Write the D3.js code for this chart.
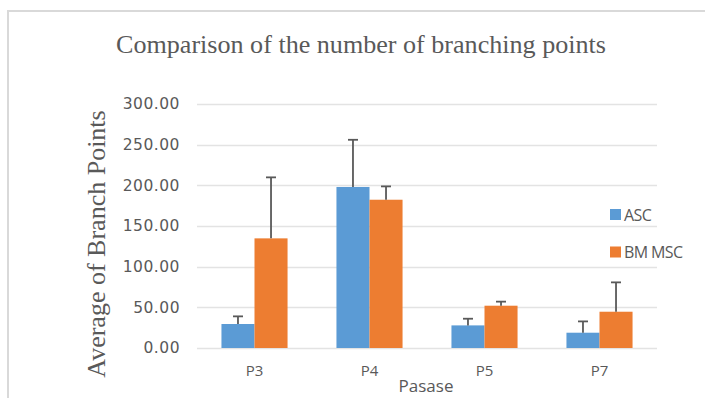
<!DOCTYPE html>
<html>
<head>
<meta charset="utf-8">
<script src="https://cdn.jsdelivr.net/npm/d3@7"></script>
<style>
  body { margin: 0; background: #fff; }
  svg { display: block; }
</style>
</head>
<body>
<div id="chart"></div>
<script>
// data
let passages = ["P3", "P4", "P5", "P7"];
let seriesNames = ["ASC", "BM MSC"];
let ascValues = [29.5, 198, 27.8, 18.8];
let ascErrors = [9.4, 58, 8.2, 13.9];
let bmValues = [134.8, 182.3, 52, 44.6];
let bmErrors = [75, 16.4, 5, 36.1];
let yTicks = [0, 50, 100, 150, 200, 250, 300];

let colors = {"ASC": "#5b9bd5", "BM MSC": "#ed7d31"};

let width = 705, height = 398;
let margin = {top: 104, left: 197, right: 48, bottom: 50};

let svg = d3.select("#chart").append("svg")
    .attr("width", width)
    .attr("height", height);

// chart frame
svg.append("rect")
    .attr("x", 8)
    .attr("y", 11)
    .attr("width", 720)
    .attr("height", 420)
    .attr("fill", "none")
    .attr("stroke", "#d9d9d9")
    .attr("stroke-width", 2);

// title
svg.append("text")
    .attr("x", 361)
    .attr("y", 53)
    .attr("text-anchor", "middle")
    .attr("font-family", "Liberation Serif, serif")
    .attr("font-size", 25)
    .attr("fill", "#595959")
    .attr("textLength", 490)
    .attr("lengthAdjust", "spacingAndGlyphs")
    .text("Comparison of the number of branching points");

let x0 = d3.scaleBand()
    .domain(passages)
    .range([margin.left, width - margin.right]);

let x1 = d3.scaleBand()
    .domain(seriesNames)
    .range([0, x0.bandwidth()])
    .paddingOuter(0.74)
    .paddingInner(0);

let y = d3.scaleLinear()
    .domain([0, 300])
    .range([348, margin.top]);

// gridlines
svg.append("g")
    .selectAll("line")
    .data(yTicks)
    .join("line")
    .attr("x1", margin.left)
    .attr("x2", width - margin.right)
    .attr("y1", d => Math.round(y(d)) + 0.5)
    .attr("y2", d => Math.round(y(d)) + 0.5)
    .attr("stroke", "#e3e3e3")
    .attr("stroke-width", 1.5);

// y axis labels
let yAxis = d3.axisLeft(y)
    .tickValues(yTicks)
    .tickFormat(d3.format(".2f"))
    .tickSize(0)
    .tickPadding(0);

let yAxisGroup = svg.append("g")
    .attr("transform", "translate(180,0)")
    .call(yAxis);
yAxisGroup.select(".domain").remove();
yAxisGroup.selectAll("text")
    .attr("font-family", "DejaVu Sans, sans-serif")
    .attr("font-size", 15.5)
    .attr("letter-spacing", 0.5)
    .attr("fill", "#595959");

// x axis labels
let xAxis = d3.axisBottom(x0).tickSize(0).tickPadding(0);
let xAxisGroup = svg.append("g")
    .attr("transform", "translate(0,365)")
    .call(xAxis);
xAxisGroup.select(".domain").remove();
xAxisGroup.selectAll("text")
    .attr("font-family", "Open Sans, sans-serif")
    .attr("font-size", 15)
    .attr("fill", "#595959");

// bars
let rows = passages.map((p, i) => ({
    passage: p,
    items: [
        {name: "ASC", value: ascValues[i], err: ascErrors[i]},
        {name: "BM MSC", value: bmValues[i], err: bmErrors[i]}
    ]
}));

let groups = svg.append("g")
    .selectAll("g")
    .data(rows)
    .join("g")
    .attr("transform", d => `translate(${x0(d.passage)},0)`);

groups.selectAll("rect")
    .data(d => d.items)
    .join("rect")
    .attr("x", d => x1(d.name))
    .attr("width", x1.bandwidth())
    .attr("y", d => y(d.value))
    .attr("height", d => y(0) - y(d.value))
    .attr("fill", d => colors[d.name]);

// error bars
let errs = groups.selectAll("g.err")
    .data(d => d.items)
    .join("g")
    .attr("class", "err")
    .attr("transform", d => `translate(${x1(d.name) + x1.bandwidth() / 2},0)`);

errs.append("line")
    .attr("x1", 0).attr("x2", 0)
    .attr("y1", d => y(d.value))
    .attr("y2", d => y(d.value + d.err))
    .attr("stroke", "#595959")
    .attr("stroke-width", 1.8);

errs.append("line")
    .attr("x1", -5).attr("x2", 5)
    .attr("y1", d => y(d.value + d.err))
    .attr("y2", d => y(d.value + d.err))
    .attr("stroke", "#595959")
    .attr("stroke-width", 1.8);

// legend
let legend = svg.append("g")
    .selectAll("g")
    .data(seriesNames)
    .join("g")
    .attr("transform", (d, i) => `translate(610,${209 + i * 37.5})`);

legend.append("rect")
    .attr("width", 11)
    .attr("height", 11)
    .attr("fill", d => colors[d]);

legend.append("text")
    .attr("x", 14)
    .attr("y", 11.5)
    .attr("font-family", "Open Sans, sans-serif")
    .attr("font-size", 16)
    .attr("letter-spacing", -0.6)
    .attr("fill", "#595959")
    .text(d => d);

// axis titles
svg.append("text")
    .attr("transform", "translate(105,244) rotate(-90)")
    .attr("text-anchor", "middle")
    .attr("font-family", "Liberation Serif, serif")
    .attr("font-size", 26)
    .attr("fill", "#595959")
    .text("Average of Branch Points");

svg.append("text")
    .attr("x", 426)
    .attr("y", 392)
    .attr("text-anchor", "middle")
    .attr("font-family", "Open Sans, sans-serif")
    .attr("font-size", 17)
    .attr("fill", "#595959")
    .text("Pasase");
</script>
</body>
</html>
